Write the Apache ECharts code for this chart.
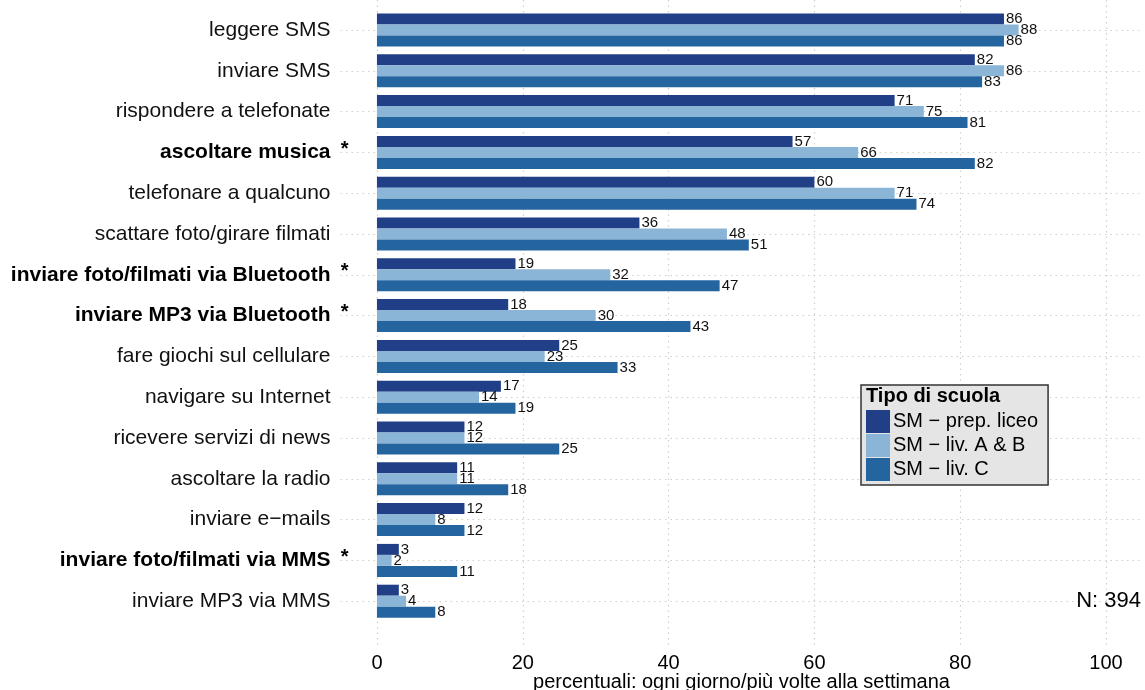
<!DOCTYPE html>
<html>
<head>
<meta charset="utf-8">
<script src="https://cdn.jsdelivr.net/npm/echarts@6/dist/echarts.min.js"></script>
<style>
html,body{margin:0;padding:0;background:#fff;}
#chart{width:1145px;height:690px;}
</style>
</head>
<body>
<div id="chart"></div>
<script>
const categories = [
  "leggere SMS", "inviare SMS", "rispondere a telefonate", "ascoltare musica",
  "telefonare a qualcuno", "scattare foto/girare filmati",
  "inviare foto/filmati via Bluetooth", "inviare MP3 via Bluetooth",
  "fare giochi sul cellulare", "navigare su Internet", "ricevere servizi di news",
  "ascoltare la radio", "inviare e\u2212mails", "inviare foto/filmati via MMS",
  "inviare MP3 via MMS"
];
const significant = ["ascoltare musica", "inviare foto/filmati via Bluetooth",
  "inviare MP3 via Bluetooth", "inviare foto/filmati via MMS"];
const seriesNames = ["SM \u2212 prep. liceo", "SM \u2212 liv. A & B", "SM \u2212 liv. C"];
const prepLiceo = [86, 82, 71, 57, 60, 36, 19, 18, 25, 17, 12, 11, 12, 3, 3];
const livAB     = [88, 86, 75, 66, 71, 48, 32, 30, 23, 14, 12, 11, 8, 2, 4];
const livC      = [86, 83, 81, 82, 74, 51, 47, 43, 33, 19, 25, 18, 12, 11, 8];
const xTicks = [0, 20, 40, 60, 80, 100];
const xTitle = "percentuali: ogni giorno/pi\u00f9 volte alla settimana";
const legendTitle = "Tipo di scuola";
const nLabel = "N: 394";

const colors = ["#213F87", "#8BB5D6", "#2465A0"];
const FONT = "Liberation Sans, Arial, Helvetica, sans-serif";
const chart = echarts.init(document.getElementById('chart'));

const seriesData = [prepLiceo, livAB, livC];
const barSeries = seriesData.map((d, i) => ({
  name: seriesNames[i],
  type: 'bar',
  xAxisIndex: 0, yAxisIndex: 0,
  data: d,
  barWidth: 11,
  barGap: '0%',
  z: 3,
  itemStyle: { color: colors[i] },
  label: {
    show: true, position: 'right', distance: 2,
    fontFamily: FONT, fontSize: 15, color: '#111'
  }
}));

const option = {
  animation: false,
  textStyle: { fontFamily: FONT },
  grid: [
    { left: 340.5, right: 2.5, top: 9.6, height: 612, containLabel: false, outerBoundsMode: 'none' },
    { left: 340.5, right: 2.5, top: 0, height: 645, containLabel: false, outerBoundsMode: 'none' }
  ],
  xAxis: [
    { type: 'value', gridIndex: 0, min: -5, max: 105, interval: 5,
      axisLine: { show: false }, axisTick: { show: false },
      axisLabel: { show: false }, splitLine: { show: false } },
    { type: 'value', gridIndex: 1, min: -5, max: 105, interval: 5,
      axisLine: { show: false }, axisTick: { show: false },
      splitLine: { show: false },
      axisLabel: {
        fontFamily: FONT, fontSize: 20, color: '#000', margin: 8,
        formatter: v => (xTicks.indexOf(v) >= 0 ? String(v) : '')
      },
      name: xTitle, nameLocation: 'middle', nameGap: 27, nameMoveOverlap: false,
      nameTextStyle: { fontFamily: FONT, fontSize: 20, color: '#000' }
    }
  ],
  yAxis: [
    { type: 'category', gridIndex: 0, data: categories, inverse: true,
      axisLine: { show: false }, axisTick: { show: false },
      splitLine: { show: false },
      axisLabel: {
        margin: -8,
        formatter: v => significant.indexOf(v) >= 0
          ? '{b|' + v + '}{s|*}'
          : '{n|' + v + '}{p| }',
        rich: {
          n: { fontFamily: FONT, fontSize: 21, color: '#111' },
          b: { fontFamily: FONT, fontSize: 21, fontWeight: 'bold', color: '#000' },
          s: { fontFamily: FONT, fontSize: 20, fontWeight: 'bold', color: '#000',
               width: 10, padding: [0, 0, 6, 8] },
          p: { fontFamily: FONT, fontSize: 21, width: 18 }
        }
      }
    },
    { type: 'value', gridIndex: 1, min: 0, max: 1, show: false }
  ],
  legend: {
    data: seriesNames,
    orient: 'vertical',
    left: 861, top: 385,
    padding: [25, 10, 4, 5],
    itemWidth: 24, itemHeight: 23, itemGap: 1,
    icon: 'rect',
    backgroundColor: '#E5E5E5',
    borderColor: '#333', borderWidth: 1.5, borderRadius: 0,
    textStyle: { fontFamily: FONT, fontSize: 20, color: '#000', padding: [0, 0, 0, -2] },
    selectedMode: false
  },
  title: [
    { text: legendTitle, left: 866, top: 386, padding: 0, z: 10,
      textStyle: { fontFamily: FONT, fontSize: 20, fontWeight: 'bold', color: '#000' } },
    { text: nLabel, right: 4, top: 590, padding: 0,
      textStyle: { fontFamily: FONT, fontSize: 22, fontWeight: 'normal', color: '#000' } }
  ],
  series: [
    {
      type: 'line', xAxisIndex: 0, yAxisIndex: 0, data: [], silent: true, z: 0,
      markLine: {
        z: 0, silent: true, symbol: 'none', animation: false,
        label: { show: false },
        lineStyle: { type: [1.5, 4], color: '#CFCFCF', width: 1.2 },
        data: categories.map(c => ({ yAxis: c }))
      }
    },
    {
      type: 'line', xAxisIndex: 1, yAxisIndex: 1, data: [], silent: true, z: 0,
      markLine: {
        z: 0, silent: true, symbol: 'none', animation: false,
        label: { show: false },
        lineStyle: { type: [1.5, 4], color: '#CFCFCF', width: 1.2 },
        data: xTicks.map(t => ({ xAxis: t }))
      }
    }
  ].concat(barSeries)
};
chart.setOption(option);
</script>
</body>
</html>
